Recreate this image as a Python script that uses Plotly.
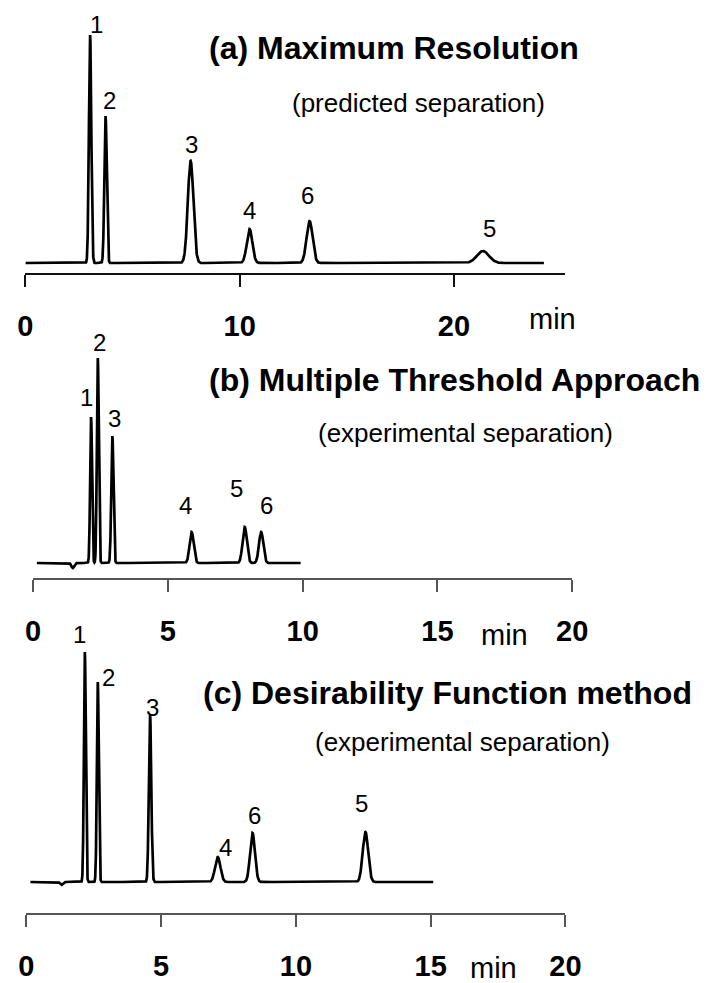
import numpy as np
import plotly.graph_objects as go

# ---------------- data ----------------
# Panel (a): predicted separation, maximum resolution
a_peak_labels = ["1", "2", "3", "4", "6", "5"]
a_times = [3.02, 3.74, 7.71, 10.46, 13.26, 21.35]      # min
a_heights = [228, 147, 102, 34, 42, 12]                 # detector response (arb.)
a_sigmas = [0.055, 0.055, 0.13, 0.13, 0.14, 0.28]       # peak width (min)
a_run = [0.0, 24.2]                                     # recorded time span (min)
a_ticks = [0, 10, 20]

# Panel (b): multiple threshold approach, experimental separation
b_peak_labels = ["1", "2", "3", "4", "5", "6"]
b_times = [2.15, 2.40, 2.94, 5.88, 7.85, 8.46]
b_heights = [146, 205, 127, 31, 36, 31]
b_sigmas = [0.035, 0.035, 0.04, 0.075, 0.08, 0.08]
b_dip_times = [1.47]
b_dip_heights = [-5]
b_run = [0.14, 9.93]
b_ticks = [0, 5, 10, 15, 20]

# Panel (c): desirability function method, experimental separation
c_peak_labels = ["1", "2", "3", "4", "6", "5"]
c_times = [2.17, 2.65, 4.59, 7.10, 8.39, 12.58]
c_heights = [230, 200, 167, 25, 49, 50]
c_sigmas = [0.035, 0.035, 0.045, 0.1, 0.09, 0.1]
c_dip_times = [1.30]
c_dip_heights = [-3]
c_run = [0.15, 15.1]
c_ticks = [0, 5, 10, 15, 20]

titles = ["(a) Maximum Resolution", "(b) Multiple Threshold Approach",
          "(c) Desirability Function method"]
subtitles = ["(predicted separation)", "(experimental separation)",
             "(experimental separation)"]
x_unit = "min"

# ---------------- layout helpers (pixels -> paper) ----------------
W, H = 708, 983
def fx(p):
    return p / W
def fy(p):
    return 1 - p / H

FONT = "Liberation Sans, Arial, Helvetica, sans-serif"

panels = [
    dict(times=a_times, heights=a_heights, sigmas=a_sigmas, labels=a_peak_labels,
         dips_t=[], dips_h=[], run=a_run, ticks=a_ticks, xmax=25.2,
         x0=18, x1=577, axis_py=273, base_py=263, top_py=15,
         axis_color="#111111", axis_w=2,
         title_xy=(400, 48), sub_xy=(425, 103), unit_xy=(564, 319),
         lab_shift=[(6, 10), (4, 15), (1, 16), (0, 18), (-2, 25), (7, 22)]),
    dict(times=b_times, heights=b_heights, sigmas=b_sigmas, labels=b_peak_labels,
         dips_t=b_dip_times, dips_h=b_dip_heights, run=b_run, ticks=b_ticks, xmax=20,
         x0=26, x1=584, axis_py=578, base_py=563, top_py=330,
         axis_color="#555555", axis_w=1.5,
         title_xy=(462, 380), sub_xy=(474, 433), unit_xy=(514, 635),
         lab_shift=[(-5, 20), (2, 16), (2, 18), (-6, 27), (-8, 39), (5, 27)]),
    dict(times=c_times, heights=c_heights, sigmas=c_sigmas, labels=c_peak_labels,
         dips_t=c_dip_times, dips_h=c_dip_heights, run=c_run, ticks=c_ticks, xmax=20,
         x0=19, x1=577, axis_py=913, base_py=882, top_py=620,
         axis_color="#555555", axis_w=1.5,
         title_xy=(455, 693), sub_xy=(470, 742), unit_xy=(503, 968),
         lab_shift=[(-5, 18), (11, 5), (2, 8), (8, 10), (2, 18), (-4, 29)]),
]

fig = go.Figure()
annotations = []

for i, p in enumerate(panels):
    n = "" if i == 0 else str(i + 1)
    xa, ya = "x" + n, "y" + n
    t = np.arange(p["run"][0], p["run"][1], 0.005)
    sig = np.zeros_like(t)
    for tr, h, s in zip(p["times"], p["heights"], p["sigmas"]):
        sig += h * np.exp(-0.5 * ((t - tr) / s) ** 2)
    for tr, h in zip(p["dips_t"], p["dips_h"]):
        sig += h * np.exp(-0.5 * ((t - tr) / 0.05) ** 2)
    fig.add_trace(go.Scatter(x=t, y=sig, mode="lines", xaxis=xa, yaxis=ya,
                             line=dict(color="#000000", width=2.7),
                             showlegend=False, hoverinfo="skip"))

    ylo = -(p["axis_py"] - p["base_py"])
    yhi = p["base_py"] - p["top_py"]
    fig.update_layout(**{
        ("xaxis" + n): dict(
            domain=[fx(p["x0"]), fx(p["x1"])], range=[0, p["xmax"]],
            anchor=ya, showline=True, linecolor=p["axis_color"], linewidth=p["axis_w"],
            ticks="outside", ticklen=12, tickwidth=1.5, tickcolor=p["axis_color"],
            tickvals=p["ticks"], ticktext=[str(v) for v in p["ticks"]],
            tickfont=dict(family=FONT, size=29, color="#000000", weight="bold"),
            ticklabelstandoff=14,
            showgrid=False, zeroline=False, fixedrange=True),
        ("yaxis" + n): dict(
            domain=[fy(p["axis_py"]), fy(p["top_py"])], range=[ylo, yhi],
            anchor=xa, visible=False, showgrid=False, zeroline=False, fixedrange=True),
    })

    for lab, tr, h, (dx, dy) in zip(p["labels"], p["times"], p["heights"], p["lab_shift"]):
        annotations.append(dict(x=tr, y=h, xref=xa, yref=ya, text=lab, showarrow=False,
                                xanchor="center", yanchor="middle", xshift=dx, yshift=dy,
                                font=dict(family=FONT, size=24, color="#000000")))

    annotations.append(dict(x=fx(p["title_xy"][0]), y=fy(p["title_xy"][1]),
                            xref="paper", yref="paper", text="<b>" + titles[i] + "</b>",
                            showarrow=False, xanchor="center", yanchor="middle",
                            font=dict(family=FONT, size=32, color="#000000")))
    annotations.append(dict(x=fx(p["sub_xy"][0]), y=fy(p["sub_xy"][1]),
                            xref="paper", yref="paper", text=subtitles[i],
                            showarrow=False, xanchor="center", yanchor="middle",
                            font=dict(family=FONT, size=26, color="#000000")))
    annotations.append(dict(x=fx(p["unit_xy"][0]), y=fy(p["unit_xy"][1]),
                            xref="paper", yref="paper", text=x_unit,
                            showarrow=False, xanchor="center", yanchor="middle",
                            font=dict(family=FONT, size=29, color="#000000")))

fig.update_layout(width=W, height=H, margin=dict(l=0, r=0, t=0, b=0),
                  paper_bgcolor="white", plot_bgcolor="white",
                  annotations=annotations, showlegend=False)

post = ("document.documentElement.style.margin='0';"
        "document.body.style.margin='0';document.body.style.padding='0';"
        "document.body.style.overflow='hidden';")

fig.write_html("out.html", config={"responsive": False, "displayModeBar": False},
               default_width="%dpx" % W, default_height="%dpx" % H,
               post_script=post)
